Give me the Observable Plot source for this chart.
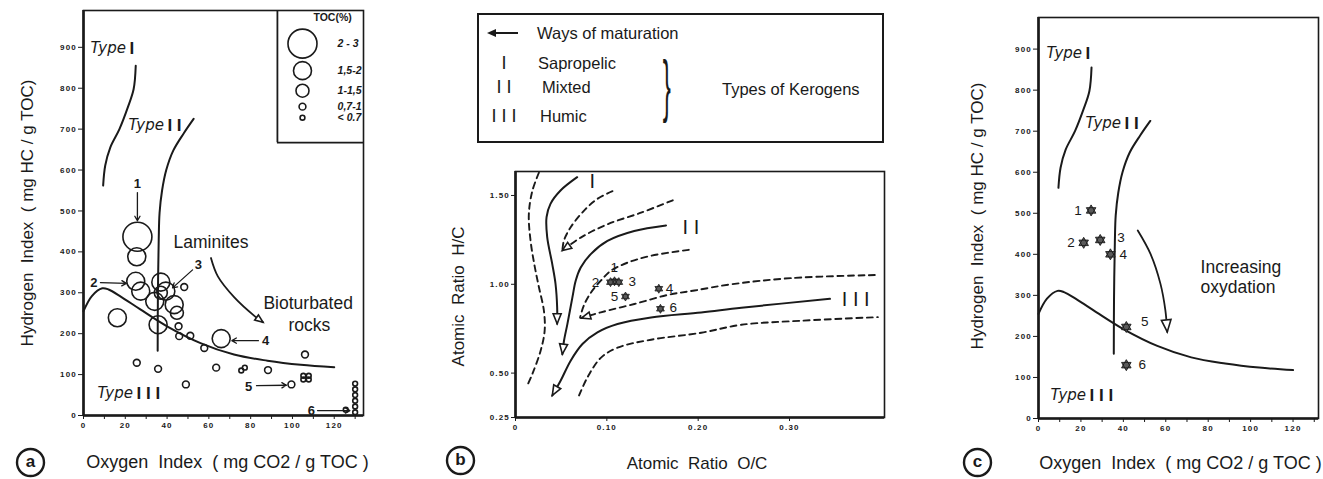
<!DOCTYPE html>
<html>
<head>
<meta charset="utf-8">
<script src="https://cdn.jsdelivr.net/npm/d3@7"></script>
<script src="https://cdn.jsdelivr.net/npm/@observablehq/plot@0.6"></script>
<style>
  html, body { margin: 0; padding: 0; background: #fff; }
  #fig { position: relative; width: 1323px; height: 479px; overflow: hidden;
         font-family: "Liberation Sans", Arial, Helvetica, sans-serif; color: #1a1a1a; background: #fff; }
  #fig > svg { position: absolute; top: 0; }
  g[aria-label="y-axis tick label"] text, g[aria-label="x-axis tick label"] text { letter-spacing: 1.2px; }
  .legB { position: absolute; box-sizing: border-box; border: 2px solid #1a1a1a; background: #fff; }
  .legB .t { position: absolute; white-space: pre; font-size: 16.5px; line-height: 1; transform: translateY(-50%); }
  .legB .c { transform: translate(-50%, -50%); font-size: 18px; }
  .legB .brace { position: absolute; font-size: 22px; line-height: 1; transform: translate(0, -50%) scale(1.1, 3.1); }
  .legB .ah { position: absolute; width: 0; height: 0; border-top: 4px solid transparent; border-bottom: 4px solid transparent; border-right: 9px solid #1a1a1a; }
  .legB .as { position: absolute; height: 2px; background: #1a1a1a; }
</style>
</head>
<body>
<div id="fig"></div>
<script>
const INK = "#1a1a1a";
const FONT = "'Liberation Sans', Arial, Helvetica, sans-serif";
const H = 479;

// ---------- Template curves for panels (a) and (c): [Oxygen Index, Hydrogen Index]
const typeICurve   = [[25,855],[24,798],[21.2,753],[17.2,700],[12.8,655],[10.4,611],[9.4,562]];
const typeIICurve  = [[52.7,725],[48,690],[43,648],[39.6,600],[37.6,550],[36.4,495],[36,430],[35.6,290],[35.5,158]];
const typeIIICurve = [[0,255],[4,292],[9,311],[12,308],[18,290],[27,260],[40,218],[56,177],[72,149],[88,134],[104,124],[120,118]];

// ---------- Panel (a): samples (OI, HI, TOC class)
const tocClasses      = ["2-3", "1.5-2", "1-1.5", "0.7-1", "<0.7"];
const tocClassLabels  = ["2 - 3", "1,5-2", "1-1,5", "0,7-1", "< 0.7"];
const samplesA = [
  {oi:25.8, hi:437, toc:"2-3"},
  {oi:25.5, hi:388, toc:"1.5-2"},
  {oi:25.0, hi:328, toc:"1.5-2"},
  {oi:27.4, hi:304, toc:"1.5-2"},
  {oi:37.0, hi:326, toc:"1.5-2"},
  {oi:39.4, hi:304, toc:"1.5-2"},
  {oi:34.1, hi:279, toc:"1.5-2"},
  {oi:37.0, hi:300, toc:"1-1.5"},
  {oi:43.4, hi:271, toc:"1.5-2"},
  {oi:44.7, hi:251, toc:"1-1.5"},
  {oi:35.7, hi:222, toc:"1.5-2"},
  {oi:16.2, hi:239, toc:"1.5-2"},
  {oi:65.9, hi:188, toc:"1.5-2"},
  {oi:48.2, hi:314, toc:"0.7-1"},
  {oi:45.5, hi:218, toc:"0.7-1"},
  {oi:45.8, hi:194, toc:"0.7-1"},
  {oi:51.1, hi:195, toc:"0.7-1"},
  {oi:57.8, hi:165, toc:"0.7-1"},
  {oi:25.5, hi:129, toc:"0.7-1"},
  {oi:35.7, hi:114, toc:"0.7-1"},
  {oi:49.0, hi:76,  toc:"0.7-1"},
  {oi:63.5, hi:117, toc:"0.7-1"},
  {oi:88.3, hi:111, toc:"0.7-1"},
  {oi:99.5, hi:76,  toc:"0.7-1"},
  {oi:106.0, hi:149, toc:"0.7-1"},
  {oi:75.5, hi:110, toc:"<0.7"},
  {oi:77.2, hi:117, toc:"<0.7"},
  {oi:105.2, hi:97, toc:"<0.7"},
  {oi:107.8, hi:97, toc:"<0.7"},
  {oi:105.2, hi:88, toc:"<0.7"},
  {oi:107.8, hi:88, toc:"<0.7"},
  {oi:130, hi:8,  toc:"<0.7"},
  {oi:130, hi:22, toc:"<0.7"},
  {oi:130, hi:36, toc:"<0.7"},
  {oi:130, hi:50, toc:"<0.7"},
  {oi:130, hi:64, toc:"<0.7"},
  {oi:130, hi:78, toc:"<0.7"},
  {oi:125.5, hi:14, toc:"<0.7"}
];
const sampleLabelsA = [
  {n:"1", oi:25.8, hi:567}, {n:"2", oi:4.9, hi:325}, {n:"3", oi:55.0, hi:369},
  {n:"4", oi:87.1, hi:183}, {n:"5", oi:79.0, hi:71},  {n:"6", oi:109, hi:12}
];
const sampleArrowsA = [
  {x1:25.8, y1:545, x2:25.8, y2:476},
  {x1:8.1,  y1:325, x2:20.5, y2:323},
  {x1:52.2, y1:356, x2:42.6, y2:312},
  {x1:83.7, y1:183, x2:71.0, y2:183},
  {x1:82.8, y1:73,  x2:97.1, y2:74},
  {x1:112,  y1:12,  x2:127.5, y2:12}
];
const laminitesArrow = [[61,385],[64.3,340],[72.3,288],[81.9,243],[85.9,228]];
const annotationsA = [
  {t:"Laminites", oi:43.1, hi:423}, {t:"Bioturbated", oi:86.1, hi:274}, {t:"rocks", oi:98.1, hi:220}
];
const typeLabelsA = [{oi:3.35, hi:897, num:"I"}, {oi:21.5, hi:709, num:"I I"}, {oi:6.7, hi:54, num:"I I I"}];

// ---------- Panel (b): van Krevelen diagram [O/C, H/C]
const vkLeftDash   = [[0.0256,1.628],[0.0184,1.525],[0.0146,1.394],[0.0165,1.245],[0.0209,1.104],[0.0253,0.992],[0.0311,0.851],[0.0319,0.738],[0.0275,0.626],[0.0187,0.498],[0.0129,0.430]];
const vkTypeI      = [[0.0675,1.603],[0.0493,1.528],[0.0383,1.453],[0.034,1.378],[0.0347,1.265],[0.0402,1.115],[0.0438,1.003],[0.0456,0.871],[0.0456,0.778]];
const vkInnerDash  = [[0.1062,1.524],[0.0897,1.481],[0.0751,1.415],[0.0604,1.321],[0.0531,1.247],[0.0513,1.19]];
const vkUpperDash  = [[0.1722,1.473],[0.1374,1.403],[0.1007,1.338],[0.0714,1.263],[0.0513,1.19]];
const vkTypeII     = [[0.1648,1.331],[0.130,1.3],[0.1007,1.244],[0.0824,1.17],[0.0714,1.094],[0.0659,1.02],[0.0623,0.926],[0.0568,0.776],[0.0531,0.682],[0.0513,0.607]];
const vkMidDash    = [[0.1897,1.194],[0.148,1.16],[0.1227,1.122],[0.1044,1.076],[0.0934,1.02],[0.0824,0.952],[0.0747,0.879],[0.0707,0.813]];
const vkLowDash    = [[0.3934,1.052],[0.3022,1.035],[0.2363,1.0],[0.196,0.965],[0.1667,0.94],[0.1301,0.889],[0.0934,0.842],[0.0722,0.81]];
const vkTypeIII    = [[0.3443,0.918],[0.2473,0.868],[0.2033,0.841],[0.1484,0.813],[0.1117,0.776],[0.0897,0.729],[0.0733,0.664],[0.0604,0.570],[0.0495,0.458],[0.0403,0.374]];
const vkBottomDash = [[0.0696,0.374],[0.0788,0.476],[0.0934,0.586],[0.1117,0.643],[0.1484,0.688],[0.2033,0.727],[0.2473,0.772],[0.3132,0.795],[0.3967,0.815]];
const vkNumerals   = [{t:"I", oc:0.084, hc:1.579}, {t:"I I", oc:0.192, hc:1.319}, {t:"I I I", oc:0.3725, hc:0.913}];
const samplesB     = [{n:"1", oc:0.1084, hc:1.017}, {n:"2", oc:0.1040, hc:1.012}, {n:"3", oc:0.1131, hc:1.012},
                      {n:"4", oc:0.1569, hc:0.975}, {n:"5", oc:0.1204, hc:0.931}, {n:"6", oc:0.1587, hc:0.862}];
const sampleLabelsB = [{n:"1", oc:0.1080, hc:1.096}, {n:"2", oc:0.0876, hc:1.011}, {n:"3", oc:0.1278, hc:1.017},
                       {n:"4", oc:0.1686, hc:0.977}, {n:"5", oc:0.1084, hc:0.930}, {n:"6", oc:0.1728, hc:0.871}];

// ---------- Panel (c): samples (OI, HI)
const samplesC = [{n:"1", oi:24.8, hi:507}, {n:"2", oi:21.3, hi:428}, {n:"3", oi:29.1, hi:435},
                  {n:"4", oi:33.9, hi:400}, {n:"5", oi:41.4, hi:223}, {n:"6", oi:41.4, hi:130}];
const sampleLabelsC = [{n:"1", oi:18.6, hi:507}, {n:"2", oi:15.3, hi:428}, {n:"3", oi:38.9, hi:440},
                       {n:"4", oi:39.9, hi:400}, {n:"5", oi:50.1, hi:235}, {n:"6", oi:48.9, hi:130}];
const oxydationArrow = [[46.8,458],[52.8,401],[57.5,328],[59.8,264],[60.7,211]];
const annotationsC = [{t:"Increasing", oi:76.4, hi:369}, {t:"oxydation", oi:76.4, hi:320}];
const typeLabelsC = [{oi:3.8, hi:889, num:"I"}, {oi:22.2, hi:719, num:"I I"}, {oi:5.7, hi:56, num:"I I I"}];

// ---------- Styles / layout
const tocRadius = {"2-3":14.5, "1.5-2":9, "1-1.5":6.5, "0.7-1":3.4, "<0.7":2.4};
const legendA = {boxOI:92.8, boxHI:667, circleOI:104.8, textOI:121.6, titleOI:119.2, titleHI:972, rowHI:[909,843,794,755,728]};
const dimsA = {left:0,   width:370, ml:83,  mr:7,  mt:10,  mb:64, x:[0,134],   y:[0,990]};
const dimsB = {left:400, width:500, ml:115, mr:16, mt:171, mb:62, x:[0,0.404], y:[0.25,1.635]};
const dimsC = {left:930, width:393, ml:108, mr:5,  mt:17,  mb:61, x:[0,132],   y:[0,977]};

const hexagram = {
  draw(ctx, size) {
    const r = Math.sqrt(size / Math.PI);
    for (const off of [-Math.PI / 2, Math.PI / 2]) {
      for (let k = 0; k < 3; k++) {
        const a = off + k * 2 * Math.PI / 3;
        if (k === 0) ctx.moveTo(r * Math.cos(a), r * Math.sin(a)); else ctx.lineTo(r * Math.cos(a), r * Math.sin(a));
      }
      ctx.closePath();
    }
  }
};
const headSymbol = {
  draw(ctx, size) {
    const r = Math.sqrt(size / Math.PI);
    ctx.moveTo(0, 0); ctx.lineTo(0.8 * r, 2 * r); ctx.lineTo(-0.8 * r, 2 * r); ctx.closePath();
  }
};
function scaleK(P) {
  return [(P.width - P.ml - P.mr) / (P.x[1] - P.x[0]), (H - P.mt - P.mb) / (P.y[1] - P.y[0])];
}
function head(curve, P, r) {
  const [kx, ky] = scaleK(P);
  const a = curve[curve.length - 2], b = curve[curve.length - 1];
  const ang = Math.atan2(-(b[1] - a[1]) * ky, (b[0] - a[0]) * kx) * 180 / Math.PI + 90;
  return Plot.dot([b], {x: d => d[0], y: d => d[1], symbol: headSymbol, r, rotate: ang,
                        fill: "white", stroke: INK, strokeWidth: 1.6});
}
const xy = {x: d => d[0], y: d => d[1]};
const tickText = {fontSize: 8, fontWeight: "bold", fontFamily: FONT, label: null};
const centered = {textAnchor: "middle", lineAnchor: "middle"};

function axisTitles(P, ylab, xlab, letter, o) {
  return [
    Plot.text([ylab], {...centered, text: d => d, frameAnchor: "left", rotate: -90, dx: o.ydx, dy: o.ydy || 0, fontSize: 17, fill: INK}),
    Plot.text([xlab], {...centered, text: d => d, frameAnchor: "bottom", dx: o.xdx, dy: o.xdy, fontSize: o.xfs || 17, fill: INK}),
    Plot.dot([letter], {frameAnchor: "bottom-left", dx: o.cdx, dy: o.cdy, r: 13.5, stroke: INK, strokeWidth: 2.4, fill: "none"}),
    Plot.text([letter], {...centered, text: d => d, frameAnchor: "bottom-left", dx: o.cdx, dy: o.cdy - 1, fontSize: 17, fontWeight: "bold", fill: INK})
  ];
}

function rockEvalBase(P, typeLabels) {
  return [
    Plot.frame({stroke: INK, strokeWidth: 1.6}),
    Plot.ruleX([0], {stroke: INK, strokeWidth: 2.6}),
    Plot.ruleY([0], {stroke: INK, strokeWidth: 2.6}),
    Plot.axisY(d3.range(0, 1000, 100), {...tickText, tickSize: 5, tickPadding: 1.5}),
    Plot.axisX(d3.range(0, P.x[1], 10), {...tickText, tickSize: 4, tickPadding: 3, tickFormat: d => d % 20 === 0 ? String(d) : ""}),
    Plot.line(typeICurve,   {...xy, curve: "catmull-rom", stroke: INK, strokeWidth: 2}),
    Plot.line(typeIICurve,  {...xy, curve: "catmull-rom", stroke: INK, strokeWidth: 2}),
    Plot.line(typeIIICurve, {...xy, curve: "catmull-rom", stroke: INK, strokeWidth: 2}),
    Plot.text(typeLabels, {x: "oi", y: "hi", text: () => "Type", textAnchor: "start", fontStyle: "italic",
                           fontFamily: "'DejaVu Sans', sans-serif", fontSize: 15, fill: INK}),
    Plot.text(typeLabels, {x: "oi", y: "hi", text: "num", textAnchor: "start", dx: 39, fontWeight: "bold",
                           fontSize: 17, fill: INK})
  ];
}

const ylabOI = "Hydrogen\u00a0 Index\u00a0 ( mg HC / g TOC)";
const xlabOI = "Oxygen\u00a0 Index\u00a0 ( mg CO2 / g TOC )";

function plotFrame(P, marks) {
  const svg = Plot.plot({
    width: P.width, height: H,
    marginLeft: P.ml, marginRight: P.mr, marginTop: P.mt, marginBottom: P.mb,
    x: {domain: P.x, label: null}, y: {domain: P.y, label: null},
    style: {fontFamily: FONT, color: INK, background: "transparent", overflow: "visible"},
    marks
  });
  svg.style.left = P.left + "px";
  return svg;
}

// ---------- Panel (a)
const marksA = [
  ...rockEvalBase(dimsA, typeLabelsA),
  // TOC legend box
  Plot.ruleX([legendA.boxOI], {y1: legendA.boxHI, y2: dimsA.y[1], stroke: INK, strokeWidth: 1.8}),
  Plot.ruleY([legendA.boxHI], {x1: legendA.boxOI, x2: dimsA.x[1], stroke: INK, strokeWidth: 1.8}),
  Plot.text(["TOC(%)"], {x: () => legendA.titleOI, y: () => legendA.titleHI, text: d => d, fontSize: 10.5, fontWeight: "bold", fill: INK}),
  ...tocClasses.map((c, i) => Plot.dot([c], {x: () => legendA.circleOI, y: () => legendA.rowHI[i], r: tocRadius[c],
                                               stroke: INK, strokeWidth: 1.6, fill: "none"})),
  Plot.text(tocClassLabels, {x: () => legendA.textOI, y: (d, i) => legendA.rowHI[i], text: d => d, textAnchor: "start",
                             fontStyle: "italic", fontWeight: "bold", fontSize: 10.5, fill: INK}),
  // samples
  ...tocClasses.map(c => Plot.dot(samplesA.filter(d => d.toc === c),
                    {x: "oi", y: "hi", r: tocRadius[c], stroke: INK, strokeWidth: 1.6, fill: "none"})),
  Plot.arrow(sampleArrowsA, {x1: "x1", y1: "y1", x2: "x2", y2: "y2", stroke: INK, strokeWidth: 1.3, headLength: 6}),
  Plot.text(sampleLabelsA, {x: "oi", y: "hi", text: "n", fontSize: 13, fontWeight: "bold", fill: INK}),
  Plot.line(laminitesArrow, {...xy, curve: "catmull-rom", stroke: INK, strokeWidth: 1.8}),
  head(laminitesArrow, dimsA, 4),
  Plot.text(annotationsA, {x: "oi", y: "hi", text: "t", textAnchor: "start", fontSize: 17.5, fill: INK}),
  ...axisTitles(dimsA, ylabOI, xlabOI, "a", {ydx: -56, xdx: 4, xdy: 47, xfs: 18, cdx: -53, cdy: 47})
];
document.getElementById("fig").appendChild(plotFrame(dimsA, marksA));

// ---------- Panel (b)
const solid = {...xy, curve: "catmull-rom", stroke: INK, strokeWidth: 2};
const dashed = {...solid, strokeWidth: 1.9, strokeDasharray: "6,4.5"};
const marksB = [
  Plot.frame({stroke: INK, strokeWidth: 1.6}),
  Plot.ruleX([0], {stroke: INK, strokeWidth: 2.6}),
  Plot.ruleY([0.25], {stroke: INK, strokeWidth: 2.6}),
  Plot.axisY([0.25, 0.5, 1.0, 1.5], {...tickText, tickSize: 4, tickPadding: 1.5, tickFormat: d3.format(".2f")}),
  Plot.axisX([0, 0.1, 0.2, 0.3], {...tickText, tickSize: 4, tickPadding: 3, tickFormat: d => d === 0 ? "0" : d.toFixed(2)}),
  Plot.line(vkLeftDash, dashed),
  Plot.line(vkInnerDash, dashed),
  Plot.line(vkUpperDash, dashed), head(vkUpperDash, dimsB, 4.5),
  Plot.line(vkMidDash, dashed),
  Plot.line(vkLowDash, dashed), head(vkLowDash, dimsB, 4.5),
  Plot.line(vkBottomDash, dashed),
  Plot.line(vkTypeI, solid), head(vkTypeI, dimsB, 5),
  Plot.line(vkTypeII, solid), head(vkTypeII, dimsB, 5),
  Plot.line(vkTypeIII, solid), head(vkTypeIII, dimsB, 5),
  Plot.text(vkNumerals, {x: "oc", y: "hc", text: "t", fontSize: 20, fill: INK}),
  Plot.dot(samplesB, {x: "oc", y: "hc", symbol: hexagram, r: 4.5, fill: "#5a5a5a", stroke: INK, strokeWidth: 0.8}),
  Plot.text(sampleLabelsB, {x: "oc", y: "hc", text: "n", fontSize: 13.5, fill: INK}),
  ...axisTitles(dimsB, "Atomic\u00a0 Ratio\u00a0 H/C", "Atomic\u00a0 Ratio\u00a0 O/C", "b", {ydx: -57, ydy: 2, xdx: -3, xdy: 46, cdx: -55, cdy: 43})
];
document.getElementById("fig").appendChild(plotFrame(dimsB, marksB));

// Panel (b) legend box
const legendRowsB = [
  {sym: "\u2190", label: "Ways of maturation"},
  {sym: "I", label: "Sapropelic"},
  {sym: "I I", label: "Mixted"},
  {sym: "I I I", label: "Humic"}
];
const kerogenTitle = "Types of Kerogens";
(function buildLegendB() {
  const box = document.createElement("div");
  box.className = "legB";
  Object.assign(box.style, {left: "477px", top: "13px", width: "407px", height: "130px"});
  const rowY = [18, 48, 72, 101], labelX = [58, 59, 63, 61];
  legendRowsB.forEach((r, i) => {
    if (i === 0) {
      const ah = document.createElement("div"); ah.className = "ah";
      Object.assign(ah.style, {left: "8px", top: (rowY[i] - 4) + "px"});
      const as = document.createElement("div"); as.className = "as";
      Object.assign(as.style, {left: "15px", top: (rowY[i] - 1) + "px", width: "24px"});
      box.append(ah, as);
    } else {
      const s = document.createElement("div"); s.className = "t c"; s.textContent = r.sym;
      Object.assign(s.style, {left: "25px", top: rowY[i] + "px"});
      box.append(s);
    }
    const t = document.createElement("div"); t.className = "t"; t.textContent = r.label;
    Object.assign(t.style, {left: labelX[i] + "px", top: rowY[i] + "px"});
    box.append(t);
  });
  const br = document.createElement("div"); br.className = "brace"; br.textContent = "}";
  Object.assign(br.style, {left: "184px", top: "72px"});
  const kt = document.createElement("div"); kt.className = "t"; kt.textContent = kerogenTitle;
  Object.assign(kt.style, {left: "243px", top: "74px"});
  box.append(br, kt);
  document.getElementById("fig").appendChild(box);
})();

// ---------- Panel (c)
const marksC = [
  ...rockEvalBase(dimsC, typeLabelsC),
  Plot.line(oxydationArrow, {...xy, curve: "catmull-rom", stroke: INK, strokeWidth: 1.8}),
  head(oxydationArrow, dimsC, 6),
  Plot.dot(samplesC, {x: "oi", y: "hi", symbol: hexagram, r: 5.5, fill: "#5a5a5a", stroke: INK, strokeWidth: 0.9}),
  Plot.text(sampleLabelsC, {x: "oi", y: "hi", text: "n", fontSize: 13.5, fill: INK}),
  Plot.text(annotationsC, {x: "oi", y: "hi", text: "t", textAnchor: "start", fontSize: 17.5, fill: INK}),
  ...axisTitles(dimsC, ylabOI, xlabOI, "c", {ydx: -61, ydy: -2, xdx: 2, xdy: 45, xfs: 18, cdx: -61, cdy: 44})
];
document.getElementById("fig").appendChild(plotFrame(dimsC, marksC));
</script>
</body>
</html>
